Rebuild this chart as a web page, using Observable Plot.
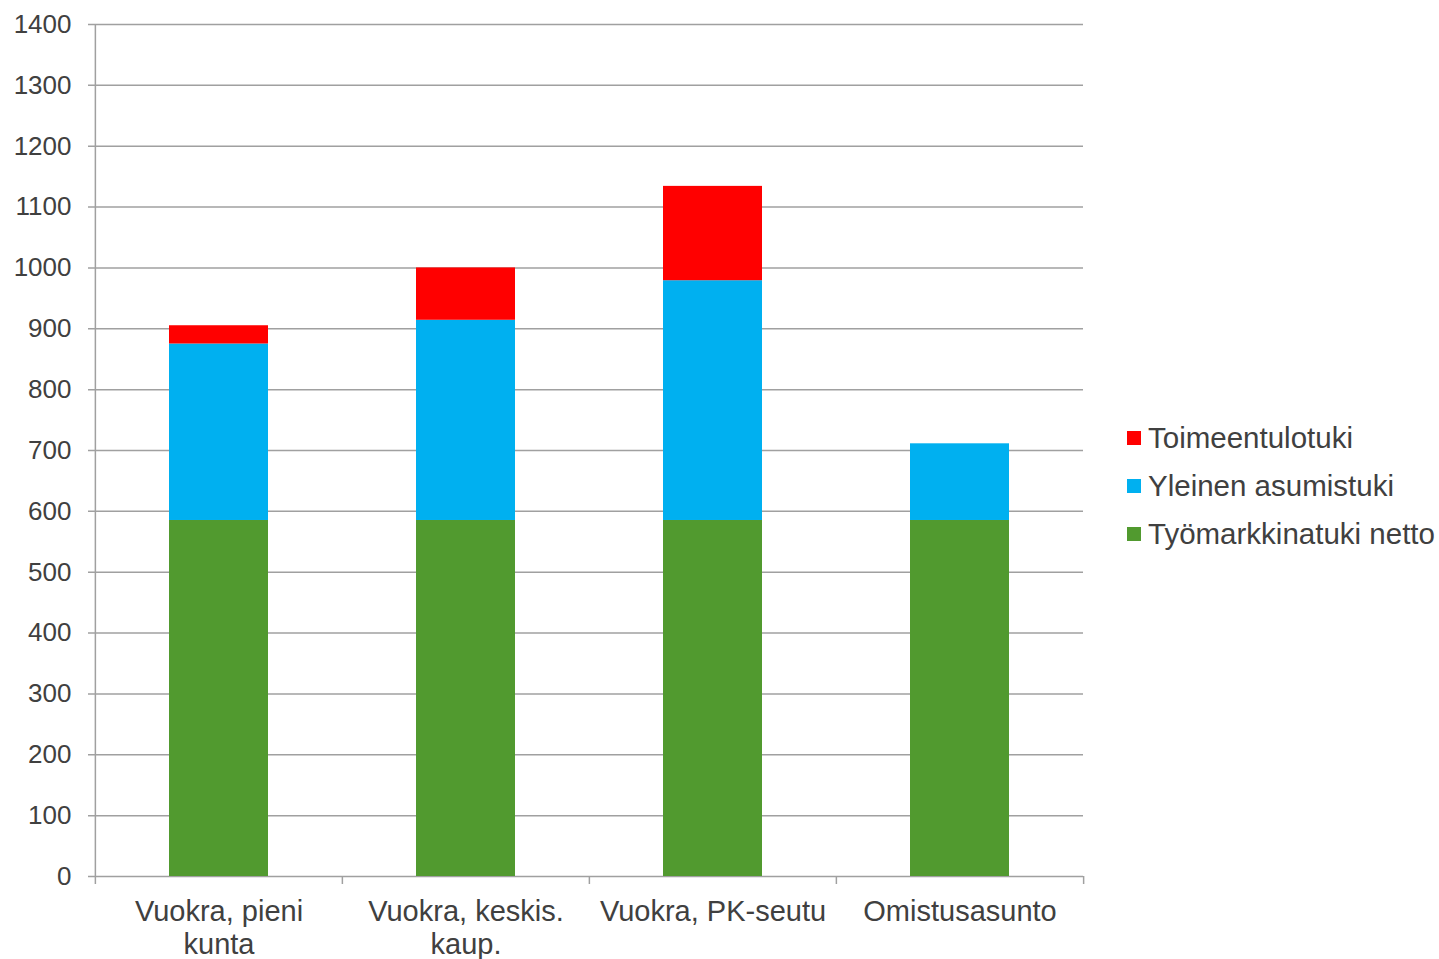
<!DOCTYPE html>
<html>
<head>
<meta charset="utf-8">
<script src="https://cdn.jsdelivr.net/npm/d3@7"></script>
<script src="https://cdn.jsdelivr.net/npm/@observablehq/plot@0.6"></script>
<style>
  html, body { margin: 0; padding: 0; background: #fff; }
  #wrap { position: relative; width: 1439px; height: 959px; font-family: "Liberation Sans", Arial, sans-serif; }
  #legend { position: absolute; left: 1127px; top: 414px; color: #404040; font-size: 29.5px; }
  #legend .row { display: flex; align-items: center; height: 48px; white-space: nowrap; }
  #legend .sw { width: 14px; height: 14px; margin-right: 7px; flex: none; }
</style>
</head>
<body>
<div id="wrap"></div>
<script>
const categories = ["Vuokra, pieni kunta", "Vuokra, keskis. kaup.", "Vuokra, PK-seutu", "Omistusasunto"];
const categoryLabels = ["Vuokra, pieni\nkunta", "Vuokra, keskis.\nkaup.", "Vuokra, PK-seutu", "Omistusasunto"];
const tyomarkkinatuki = [585, 585, 585, 585];
const asumistuki = [290, 329, 394, 126];
const toimeentulotuki = [30, 86, 155, 0];
const seriesNames = ["Työmarkkinatuki netto", "Yleinen asumistuki", "Toimeentulotuki"];
const seriesColors = ["#519A2F", "#00B0F0", "#FF0000"];
const yTicks = [0, 100, 200, 300, 400, 500, 600, 700, 800, 900, 1000, 1100, 1200, 1300, 1400];

const seriesValues = [tyomarkkinatuki, asumistuki, toimeentulotuki];
const rows = [];
seriesNames.forEach((s, si) => {
  categories.forEach((c, ci) => rows.push({category: c, series: s, value: seriesValues[si][ci]}));
});

const W = 1439, H = 959, mL = 94, mR = 356, mT = 24, mB = 83;
const step = (W - mL - mR) / categories.length;
const gridColor = "#A0A0A0";
const textColor = "#404040";

const chart = Plot.plot({
  width: W,
  height: H,
  marginLeft: mL,
  marginRight: mR,
  marginTop: mT,
  marginBottom: mB,
  style: {fontFamily: "Liberation Sans, Arial, sans-serif", color: textColor, background: "#fff"},
  x: {domain: categories, paddingInner: 0.6, paddingOuter: 0.3, label: null},
  y: {domain: [0, 1400], label: null},
  color: {domain: seriesNames, range: seriesColors},
  marks: [
    Plot.ruleY(yTicks, {stroke: gridColor, strokeWidth: 1.5, strokeOpacity: 1, insetLeft: -6}),
    Plot.barY(rows, Plot.stackY({x: "category", y: "value", fill: "series", order: seriesNames})),
    Plot.ruleX([0], {x: () => categories[0], dx: -step / 2, stroke: gridColor, strokeWidth: 1.5}),
    Plot.ruleX(categories, {dx: -step / 2, y1: 0, y2: 0, insetBottom: -8, stroke: gridColor, strokeWidth: 1.5}),
    Plot.ruleX([categories[categories.length - 1]], {dx: step / 2, y1: 0, y2: 0, insetBottom: -8, stroke: gridColor, strokeWidth: 1.5}),
    Plot.axisY({ticks: yTicks, tickSize: 0, tickPadding: 23, fontSize: 26, fill: textColor, tickFormat: (d) => String(d)}),
    Plot.axisX({tickSize: 0, tickPadding: 21, fontSize: 29, lineHeight: 1.13, fill: textColor,
      tickFormat: (d) => categoryLabels[categories.indexOf(d)]})
  ]
});

const wrap = document.getElementById("wrap");
wrap.appendChild(chart);

const legend = document.createElement("div");
legend.id = "legend";
[2, 1, 0].forEach(i => {
  const row = document.createElement("div");
  row.className = "row";
  const sw = document.createElement("span");
  sw.className = "sw";
  sw.style.background = seriesColors[i];
  const lab = document.createElement("span");
  lab.textContent = seriesNames[i];
  row.appendChild(sw);
  row.appendChild(lab);
  legend.appendChild(row);
});
wrap.appendChild(legend);
</script>
</body>
</html>
